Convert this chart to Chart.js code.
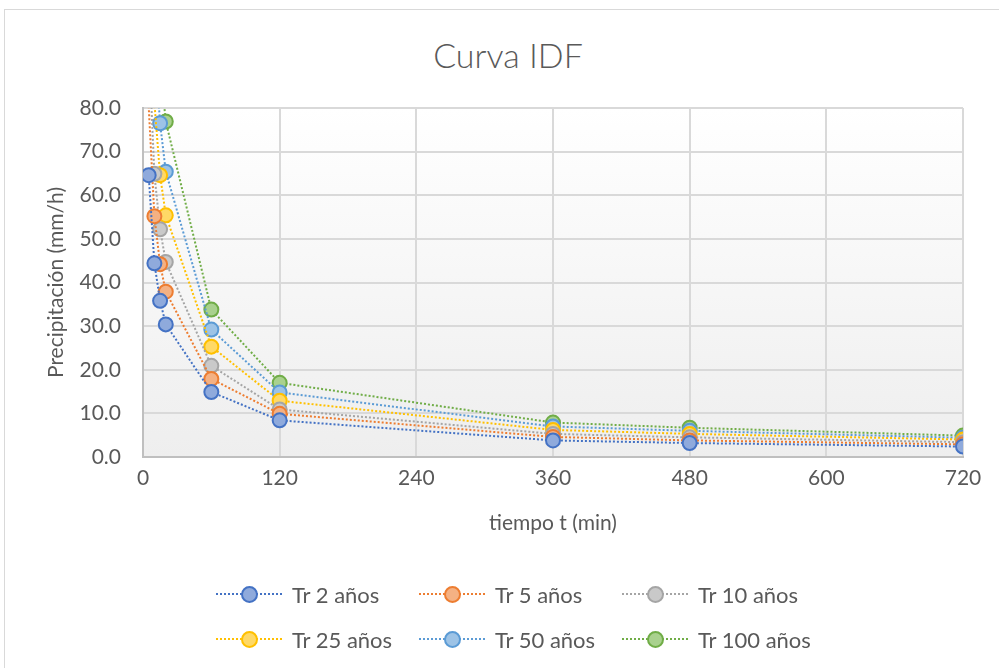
<!DOCTYPE html>
<html>
<head>
<meta charset="utf-8">
<script src="https://cdn.jsdelivr.net/npm/chart.js@4.4.1/dist/chart.umd.min.js"></script>
<style>
    html, body { margin: 0; padding: 0; background: #fff; overflow: hidden; }
    body { width: 999px; height: 668px; position: relative; font-family: Lato, "Open Sans", sans-serif; }
    #frame { position: absolute; left: 4px; top: 9px; width: 1100px; height: 800px; border: 1px solid #d9d9d9; box-sizing: border-box; }
    #wrap { position: absolute; left: 0; top: 0; width: 999px; height: 668px; }
    #title { position: absolute; left: 0; width: 1016px; top: 34px; text-align: center; font-size: 34px; font-weight: 300; color: #595959; }
    .item { position: absolute; height: 26px; display: flex; align-items: center; font-size: 22px; color: #595959; }
    .icon { position: relative; width: 66px; height: 18px; margin-right: 10px; }
    .icon .ln { position: absolute; left: 0; right: 0; top: 8px; border-top: 2px dotted; }
    .icon .dot { position: absolute; left: 25px; top: 1px; width: 13px; height: 13px; border-radius: 50%; border: 2px solid; }
</style>
</head>
<body>
<div id="frame"></div>
<div id="title">Curva IDF</div>
<div id="wrap"><canvas id="idfChart"></canvas></div>
<div id="legend"></div>
<script>
// Duraciones (min) e intensidades (mm/h)
const tiempos = [5, 10, 15, 20, 60, 120, 360, 480, 720];
const tr2 = [64.6, 44.4, 35.8, 30.4, 14.9, 8.4, 3.8, 3.2, 2.4];
const tr5 = [80.4, 55.2, 44.2, 37.9, 17.9, 9.9, 4.6, 3.8, 2.9];
const tr10 = [94.9, 64.9, 52.2, 44.7, 20.9, 10.9, 5.3, 4.5, 3.4];
const tr25 = [118.0, 81.2, 64.6, 55.4, 25.3, 12.9, 6.2, 5.3, 4.0];
const tr50 = [139.0, 96.0, 76.5, 65.4, 29.2, 14.8, 7.0, 6.0, 4.4];
const tr100 = [164.0, 113.0, 90.0, 76.9, 33.8, 17.0, 7.9, 6.7, 4.9];

const nombres = ['Tr 2 años', 'Tr 5 años', 'Tr 10 años', 'Tr 25 años', 'Tr 50 años', 'Tr 100 años'];
const series = [tr2, tr5, tr10, tr25, tr50, tr100];
const bordes = ['#4472C4', '#ED7D31', '#A5A5A5', '#FFC000', '#5B9BD5', '#70AD47'];
const rellenos = ['#8FAADC', '#F4B183', '#C9C9C9', '#FFD966', '#9DC3E6', '#A9D18E'];

const yTicks = [0, 10, 20, 30, 40, 50, 60, 70, 80];
const xTicks = [0, 120, 240, 360, 480, 600, 720];
const Y_MAX = 80;

document.addEventListener('DOMContentLoaded', function() {
    if (typeof Chart === 'undefined') {
        console.error('Chart.js is not loaded.');
        return;
    }

    const datasets = series.map((vals, i) => ({
        label: nombres[i],
        data: tiempos.map((t, j) => ({ x: t, y: vals[j] })),
        showLine: true,
        borderColor: bordes[i],
        backgroundColor: rellenos[i],
        borderWidth: 2,
        borderDash: [2, 2],
        pointRadius: ctx => (ctx.raw && ctx.raw.y > Y_MAX ? 0 : 7),
        pointBorderWidth: 2,
        pointBorderColor: bordes[i],
        pointBackgroundColor: rellenos[i]
    }));

    // Plot area gradient fill
    const plotBg = {
        id: 'plotBg',
        beforeDraw(chart) {
            const { ctx, chartArea: a } = chart;
            const g = ctx.createLinearGradient(0, a.top, 0, a.bottom);
            g.addColorStop(0, '#ffffff');
            g.addColorStop(1, '#eeeeee');
            ctx.save();
            ctx.fillStyle = g;
            ctx.fillRect(a.left, a.top, a.right - a.left, a.bottom - a.top);
            ctx.restore();
        }
    };

    const axisFont = { family: 'Lato', size: 21 };

    const ctx = document.getElementById('idfChart').getContext('2d');
    new Chart(ctx, {
        type: 'scatter',
        data: { datasets: datasets },
        plugins: [plotBg],
        options: {
            responsive: true,
            maintainAspectRatio: false,
            animation: false,
            layout: { padding: { top: 108, left: 10, right: 36, bottom: 131 } },
            plugins: {
                legend: { display: false },
                tooltip: { enabled: false }
            },
            scales: {
                x: {
                    type: 'linear',
                    min: 0,
                    max: 720,
                    afterBuildTicks: scale => { scale.ticks = xTicks.map(v => ({ value: v })); },
                    afterFit: scale => { scale.height = 80; },
                    grid: { color: '#d9d9d9', lineWidth: 2, drawTicks: false },
                    border: { color: '#bfbfbf', width: 2 },
                    ticks: { padding: 9, color: '#595959', font: axisFont },
                    title: {
                        display: true,
                        text: 'tiempo t (min)',
                        color: '#595959',
                        font: axisFont,
                        padding: { top: 0, bottom: 1 }
                    }
                },
                y: {
                    min: 0,
                    max: Y_MAX,
                    afterBuildTicks: scale => { scale.ticks = yTicks.map(v => ({ value: v })); },
                    afterFit: scale => { scale.width = 133; },
                    grid: { color: '#d9d9d9', lineWidth: 2, drawTicks: false },
                    border: { color: '#bfbfbf', width: 2 },
                    ticks: {
                        padding: 22,
                        color: '#595959',
                        font: axisFont,
                        callback: v => v.toFixed(1)
                    },
                    title: {
                        display: true,
                        text: 'Precipitación (mm/h)',
                        color: '#595959',
                        font: axisFont,
                        padding: { top: 34, bottom: 0 }
                    }
                }
            }
        }
    });

    // Legend: two rows of three, line + marker icons
    const legend = document.getElementById('legend');
    const colsX = [216, 419, 622];
    const rowsY = [581, 626];
    nombres.forEach((name, i) => {
        const item = document.createElement('div');
        item.className = 'item';
        item.style.left = colsX[i % 3] + 'px';
        item.style.top = rowsY[Math.floor(i / 3)] + 'px';
        item.innerHTML = `
            <span class="icon">
                <span class="ln" style="border-color:${bordes[i]}"></span>
                <span class="dot" style="border-color:${bordes[i]};background:${rellenos[i]}"></span>
            </span>
            <span>${name}</span>`;
        legend.appendChild(item);
    });
});
</script>
</body>
</html>
